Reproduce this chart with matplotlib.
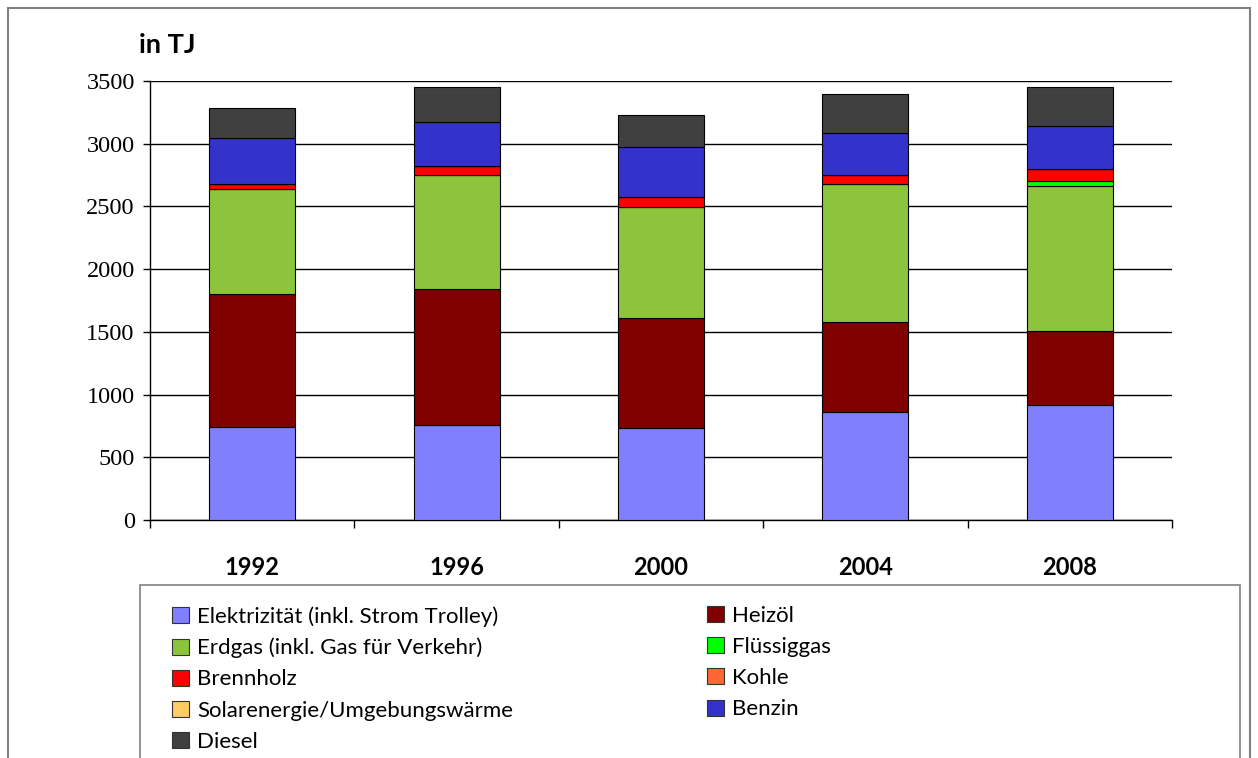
import numpy as np
import matplotlib
matplotlib.use("Agg")
import matplotlib.pyplot as plt
from matplotlib.patches import Rectangle, Patch

# Endenergieverbrauch nach Energieträger, in TJ
years = ["1992", "1996", "2000", "2004", "2008"]
elektrizitaet = [745, 760, 733, 858, 917]
heizoel = [1057, 1084, 875, 721, 590]
erdgas = [837, 904, 890, 1097, 1153]
fluessiggas = [0, 0, 0, 0, 43]
brennholz = [42, 72, 80, 72, 95]
kohle = [0, 0, 0, 0, 0]
solar = [0, 0, 0, 0, 0]
benzin = [364, 351, 398, 340, 346]
diesel = [242, 281, 253, 311, 308]

labels = ["Elektrizität (inkl. Strom Trolley)", "Heizöl", "Erdgas (inkl. Gas für Verkehr)",
          "Flüssiggas", "Brennholz", "Kohle", "Solarenergie/Umgebungswärme", "Benzin", "Diesel"]
colors = ["#8080FF", "#800000", "#8CC43E", "#00FF00", "#FF0000", "#FF6633", "#FFCC66",
          "#3333CC", "#404040"]
series = [elektrizitaet, heizoel, erdgas, fluessiggas, brennholz, kohle, solar, benzin, diesel]

W, H = 1258, 758
fig = plt.figure(figsize=(W / 100, H / 100), dpi=100)

# outer frame and legend frame (both run off the bottom edge)
fig.patches.append(Rectangle((8 / W, -0.1), 1242 / W, 1.1 - 8 / H, transform=fig.transFigure,
                             fill=False, edgecolor="#808080", linewidth=1.5))
fig.patches.append(Rectangle((140 / W, -0.1), 1100 / W, 0.1 + 1 - 585 / H, transform=fig.transFigure,
                             fill=False, edgecolor="#808080", linewidth=1.2))

ax = fig.add_axes([150 / W, 1 - 520 / H, 1022 / W, 439 / H])
x = np.arange(len(years))
bottom = np.zeros(len(years))
handles = []
for vals, lab, col in zip(series, labels, colors):
    vals = np.array(vals, dtype=float)
    ax.bar(x, vals, width=0.42, bottom=bottom, color=col, edgecolor="black",
           linewidth=0.8, zorder=3)
    handles.append(Patch(facecolor=col, edgecolor="#333333", linewidth=0.8, label=lab))
    bottom += vals

ax.set_xlim(-0.5, len(years) - 0.5)
ax.set_ylim(0, 3500)
ax.set_yticks(np.arange(0, 3501, 500))
ax.yaxis.grid(True, color="black", linewidth=1.0, zorder=0)
ax.set_axisbelow(True)
for s in ["top", "right"]:
    ax.spines[s].set_visible(False)
ax.spines["left"].set_linewidth(1.0)
ax.spines["bottom"].set_linewidth(1.0)

ax.tick_params(axis="y", length=5, width=1, pad=6, labelsize=17.5)
for t in ax.get_yticklabels():
    t.set_fontfamily("Liberation Serif")

ax.set_xticks(x)
ax.set_xticklabels(years, fontfamily="Lato", fontweight="bold", fontsize=17)
ax.set_xticks(np.arange(-0.5, len(years)), minor=True)
ax.tick_params(axis="x", which="major", length=0, pad=26)
ax.tick_params(axis="x", which="minor", length=6, width=1)

fig.text(167 / W, 1 - 45 / H, "in TJ", fontfamily="Lato", fontweight="bold", fontsize=19.5,
         ha="center", va="center")

# legend as two separate columns, filled row by row
leg_kw = dict(loc="upper left", frameon=False, prop={"family": "Lato", "size": 16},
              handlelength=0.77, handleheight=0.73, handletextpad=0.36,
              labelspacing=0.5, borderpad=0, borderaxespad=0)
left_col = [0, 2, 4, 6, 8]
right_col = [1, 3, 5, 7]
leg1 = fig.legend([handles[i] for i in left_col], [labels[i] for i in left_col],
                  bbox_to_anchor=(172 / W, 1 - 606 / H), **leg_kw)
leg2 = fig.legend([handles[i] for i in right_col], [labels[i] for i in right_col],
                  bbox_to_anchor=(707 / W, 1 - 606 / H), **leg_kw)

fig.savefig("out.png", dpi=100)
